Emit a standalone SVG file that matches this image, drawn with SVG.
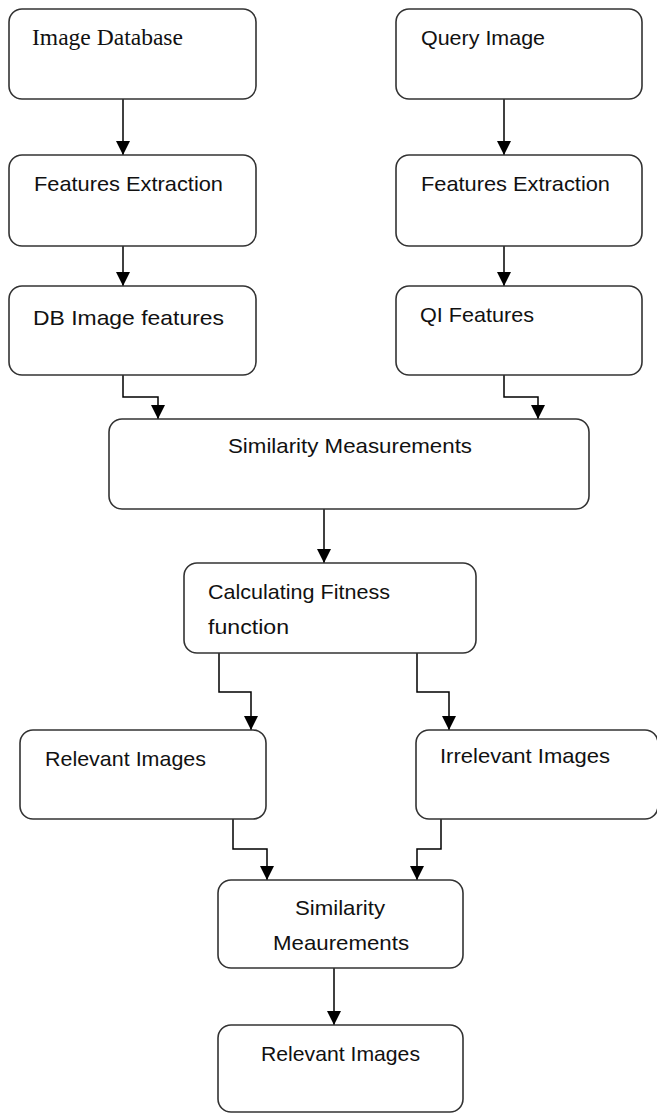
<svg xmlns="http://www.w3.org/2000/svg" width="657" height="1114" viewBox="0 0 657 1114">
<defs>
<marker id="arr" viewBox="0 0 14 14" refX="14" refY="7" markerWidth="14" markerHeight="14" orient="auto" markerUnits="userSpaceOnUse">
<path d="M0,0 L14,7 L0,14 z" fill="#000"/>
</marker>
<style>
.box{fill:#fff;stroke:#333;stroke-width:1.6}
.t{font-family:"Liberation Sans",Arial,sans-serif;font-size:21px;fill:#111}
.s{font-family:"Liberation Serif","Times New Roman",serif;font-size:23px;fill:#111}
.c{fill:none;stroke:#000;stroke-width:1.5;marker-end:url(#arr)}
</style>
</defs>
<rect width="657" height="1114" fill="#fff"/>
<g id="connectors">
<path class="c" d="M123,99 V155"/>
<path class="c" d="M504,99 V155"/>
<path class="c" d="M123,246 V286"/>
<path class="c" d="M504,246 V286"/>
<path class="c" d="M123,375 V397 H158 V419"/>
<path class="c" d="M504,375 V397 H538 V419"/>
<path class="c" d="M324,509 V563"/>
<path class="c" d="M219,653 V692 H251 V730"/>
<path class="c" d="M417,653 V692 H449 V730"/>
<path class="c" d="M233,819 V849 H267 V880"/>
<path class="c" d="M441,819 V849 H417 V880"/>
<path class="c" d="M334,968 V1025"/>
</g>
<g id="n1"><rect class="box" x="9" y="9" width="247" height="90" rx="13"/><text class="s" x="32" y="45" textLength="151" lengthAdjust="spacingAndGlyphs">Image Database</text></g>
<g id="n2"><rect class="box" x="396" y="9" width="246" height="90" rx="13"/><text class="t" x="421" y="45" textLength="124" lengthAdjust="spacingAndGlyphs">Query Image</text></g>
<g id="n3"><rect class="box" x="9" y="155" width="247" height="91" rx="13"/><text class="t" x="34" y="191" textLength="189" lengthAdjust="spacingAndGlyphs">Features Extraction</text></g>
<g id="n4"><rect class="box" x="396" y="155" width="246" height="91" rx="13"/><text class="t" x="421" y="191" textLength="189" lengthAdjust="spacingAndGlyphs">Features Extraction</text></g>
<g id="n5"><rect class="box" x="9" y="286" width="247" height="89" rx="13"/><text class="t" x="33" y="325" textLength="191" lengthAdjust="spacingAndGlyphs">DB Image features</text></g>
<g id="n6"><rect class="box" x="396" y="286" width="246" height="89" rx="13"/><text class="t" x="420" y="322" textLength="114" lengthAdjust="spacingAndGlyphs">QI Features</text></g>
<g id="n7"><rect class="box" x="109" y="419" width="480" height="90" rx="13"/><text class="t" x="228" y="453" textLength="244" lengthAdjust="spacingAndGlyphs">Similarity Measurements</text></g>
<g id="n8"><rect class="box" x="184" y="563" width="292" height="90" rx="13"/><text class="t" x="208" y="599" textLength="182" lengthAdjust="spacingAndGlyphs">Calculating Fitness</text><text class="t" x="208" y="634" textLength="81" lengthAdjust="spacingAndGlyphs">function</text></g>
<g id="n9"><rect class="box" x="20" y="730" width="246" height="89" rx="13"/><text class="t" x="45" y="766" textLength="161" lengthAdjust="spacingAndGlyphs">Relevant Images</text></g>
<g id="n10"><rect class="box" x="416" y="730" width="242" height="89" rx="13"/><text class="t" x="440" y="763" textLength="170" lengthAdjust="spacingAndGlyphs">Irrelevant Images</text></g>
<g id="n11"><rect class="box" x="218" y="880" width="245" height="88" rx="13"/><text class="t" x="295" y="915" textLength="90" lengthAdjust="spacingAndGlyphs">Similarity</text><text class="t" x="273" y="950" textLength="136" lengthAdjust="spacingAndGlyphs">Meaurements</text></g>
<g id="n12"><rect class="box" x="218" y="1025" width="245" height="87" rx="13"/><text class="t" x="261" y="1061" textLength="159" lengthAdjust="spacingAndGlyphs">Relevant Images</text></g>
</svg>
